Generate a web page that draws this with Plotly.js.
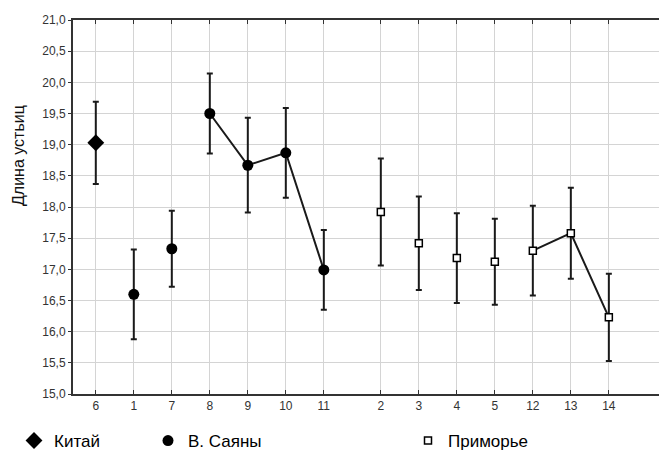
<!DOCTYPE html>
<html>
<head>
<meta charset="utf-8">
<script src="https://cdn.plot.ly/plotly-3.0.1.min.js"></script>
<style>html,body{margin:0;padding:0;background:#fff;}#chart{width:659px;height:450px;}</style>
</head>
<body>
<div id="chart"></div>
<script>
// Category order along the x axis (a gap separates the two blocks)
const categories = ['6','1','7','8','9','10','11','2','3','4','5','12','13','14'];
const gapAfterIndex = 6;

// Китай
const chinaCats = ['6'];
const chinaMean = [19.03];
const chinaErr  = [0.66];

// В. Саяны
const sayanyCats = ['1','7','8','9','10','11'];
const sayanyMean = [16.60, 17.33, 19.50, 18.67, 18.87, 16.99];
const sayanyErr  = [0.72, 0.61, 0.64, 0.76, 0.72, 0.64];
const sayanyLinked = ['8','9','10','11'];

// Приморье
const primCats = ['2','3','4','5','12','13','14'];
const primMean = [17.92, 17.42, 17.18, 17.12, 17.30, 17.58, 16.23];
const primErr  = [0.86, 0.75, 0.72, 0.69, 0.72, 0.73, 0.70];
const primLinked = ['12','13','14'];

const yTicks = [15,15.5,16,16.5,17,17.5,18,18.5,19,19.5,20,20.5,21];

function slot(c){ const i = categories.indexOf(c); return i + (i > gapAfterIndex ? 0.5 : 0); }
function pick(cats, vals, subset){ return subset.map(c => vals[cats.indexOf(c)]); }

const FONT = 'Liberation Sans, Arial, sans-serif';
const INK = '#1a1a1a';

const traces = [
  {type:'scatter', mode:'lines', x: sayanyLinked.map(slot), y: pick(sayanyCats, sayanyMean, sayanyLinked),
   line:{color:INK, width:2}, showlegend:false, hoverinfo:'skip'},
  {type:'scatter', mode:'lines', x: primLinked.map(slot), y: pick(primCats, primMean, primLinked),
   line:{color:INK, width:2}, showlegend:false, hoverinfo:'skip'},
  {type:'scatter', mode:'markers', name:'Китай', legend:'legend',
   x: chinaCats.map(slot), y: chinaMean,
   error_y:{type:'data', array: chinaErr, visible:true, color:INK, thickness:2, width:3},
   marker:{symbol:'diamond', size:13, color:'#000'}},
  {type:'scatter', mode:'markers', name:'В. Саяны', legend:'legend2',
   x: sayanyCats.map(slot), y: sayanyMean,
   error_y:{type:'data', array: sayanyErr, visible:true, color:INK, thickness:2, width:3},
   marker:{symbol:'circle', size:11, color:'#000'}},
  {type:'scatter', mode:'markers', name:'Приморье', legend:'legend3',
   x: primCats.map(slot), y: primMean,
   error_y:{type:'data', array: primErr, visible:true, color:INK, thickness:2, width:3},
   marker:{symbol:'square', size:7, color:'#fff', line:{color:'#000', width:1.5}}}
];

const legendBase = {orientation:'h', xref:'container', yref:'container', yanchor:'middle', xanchor:'left',
  bgcolor:'rgba(0,0,0,0)', font:{family:FONT, size:17, color:'#000'}, itemwidth:30, tracegroupgap:0};

const layout = {
  width:659, height:450,
  margin:{l:73, r:0, t:20, b:56},
  paper_bgcolor:'#fff', plot_bgcolor:'#fff',
  separators:', ',
  font:{family:FONT, color:'#333'},
  xaxis:{
    range:[-0.6, 14.82], tickvals: categories.map(slot), ticktext: categories,
    showgrid:true, gridcolor:'#d4d4d4', gridwidth:1, zeroline:false,
    showline:true, linecolor:'#333', linewidth:2, mirror:'ticks',
    ticks:'inside', ticklen:4, tickcolor:'#333', tickwidth:1,
    tickfont:{family:FONT, size:12, color:'#333'}
  },
  yaxis:{
    range:[15,21], tickvals: yTicks, tickformat:'.1f',
    showgrid:true, gridcolor:'#d4d4d4', gridwidth:1, zeroline:false,
    showline:true, linecolor:'#333', linewidth:2, mirror:false,
    ticks:'outside', ticklen:3, tickcolor:'#333', tickwidth:1,
    tickfont:{family:FONT, size:12, color:'#333'}
  },
  showlegend:true,
  legend: Object.assign({}, legendBase, {x: 14/659, y: 1 - 441/450}),
  legend2: Object.assign({}, legendBase, {x: 148/659, y: 1 - 441/450}),
  legend3: Object.assign({}, legendBase, {x: 408/659, y: 1 - 441/450}),
  annotations:[{
    text:'Длина устьиц', textangle:-90, showarrow:false,
    xref:'paper', yref:'paper', x:(18-73)/586, y:(394-156)/374,
    xanchor:'center', yanchor:'middle',
    font:{family:FONT, size:16, color:'#111'}
  }]
};

Plotly.newPlot('chart', traces, layout, {displayModeBar:false, staticPlot:true});
</script>
</body>
</html>
